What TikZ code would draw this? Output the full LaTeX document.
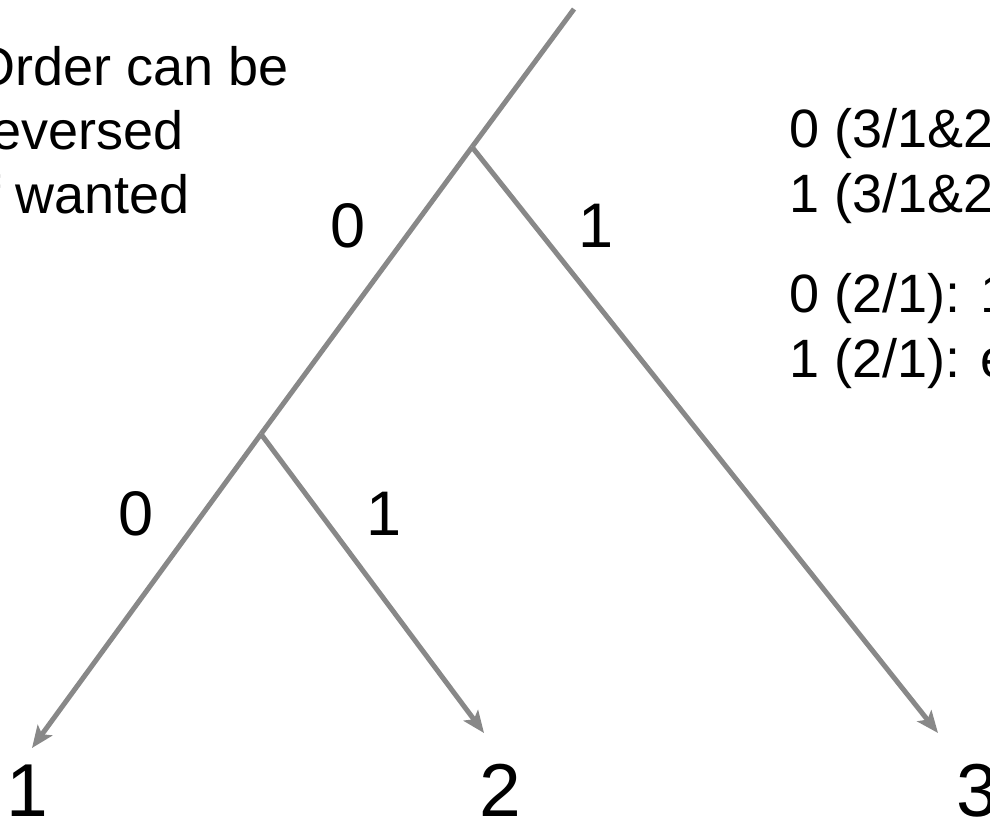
\documentclass[tikz,border=0pt]{standalone}
\usepackage{fontspec}
\setmainfont{Liberation Sans}
\usetikzlibrary{arrows.meta}
\definecolor{edgegray}{RGB}{136,136,136}
\begin{document}
\begin{tikzpicture}[x=1pt,y=-1pt,
  edge/.style={draw=edgegray,line width=5pt},
  arr/.style={edge,-{Stealth[length=22pt,width=18pt,inset=5pt]}},
  lbl/.style={font=\fontsize{63}{63}\selectfont,anchor=base,inner sep=0pt},
  leaf/.style={font=\fontsize{75}{75}\selectfont,anchor=base,inner sep=0pt},
  note/.style={font=\fontsize{54}{64}\selectfont,anchor=base west,inner sep=0pt}]
\useasboundingbox (0,0) rectangle (990,819);
% tree points
\coordinate (top) at (574,9);
\coordinate (A) at (472,147);
\coordinate (B) at (261,434);
\coordinate (t1) at (32,748);
\coordinate (t2) at (484,733);
\coordinate (t3) at (938,733);
% leaves
\node[leaf] (l1) at (27,816) {1};
\node[leaf] (l2) at (500,816) {2};
\node[leaf] (l3) at (977,816) {3};
% edges
\draw[edge] (top) -- (A);
\draw[edge] (A) -- (B);
\draw[arr] (A) -- (t3);
\draw[arr] (B) -- (t1);
\draw[arr] (B) -- (t2);
% edge labels
\node[lbl] (e0a) at (348,247) {0};
\node[lbl] (e1a) at (596,247) {1};
\node[lbl] (e0b) at (136,535) {0};
\node[lbl] (e1b) at (384,535) {1};
% left note
\node[note] (n1) at (-27,85) {Order can be};
\node[note] (n2) at (-27,149) {reversed};
\node[note] (n3) at (-27,213) {if wanted};
% right notes
\node[note] (r1) at (789,147) {0 (3/1\&2};
\node[note] (r2) at (789,212) {1 (3/1\&2};
\node[note] (r3) at (789,312) {0 (2/1): 1};
\node[note] (r4) at (789,377) {1 (2/1): e};
\end{tikzpicture}
\end{document}
